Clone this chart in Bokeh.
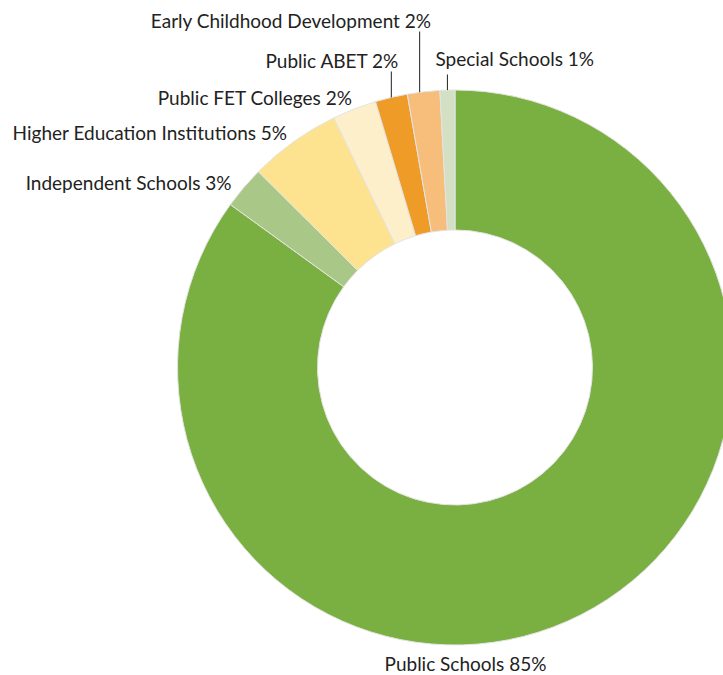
import math
from bokeh.plotting import figure
from bokeh.models import ColumnDataSource
from bokeh.core.properties import value
from bokeh.embed import file_html
from bokeh.resources import INLINE

# ---- data (clockwise from 12 o'clock) ----
categories = ["Public Schools", "Independent Schools", "Higher Education Institutions",
              "Public FET Colleges", "Public ABET", "Early Childhood Development",
              "Special Schools"]
shares = [84.98, 2.48, 5.34, 2.57, 1.87, 1.88, 0.87]
label_pcts = ["85%", "3%", "5%", "2%", "2%", "2%", "1%"]
colors = ["#7aaf42", "#a9c887", "#fde290", "#fdefc9", "#ee9b27", "#f6bd7b", "#d3e0c3"]

# ---- layout ----
W, H = 723, 675
CX, CY = 454.5, 675 - 367.0
R_OUT, R_IN = 277.5, 137.5

total = sum(shares)
starts, ends, mids = [], [], []
cum = 0.0
for s in shares:
    w = s / total * 2 * math.pi
    a_end = math.pi / 2 - cum
    a_start = math.pi / 2 - (cum + w)
    starts.append(a_start)
    ends.append(a_end)
    mids.append((a_start + a_end) / 2)
    cum += w

src = ColumnDataSource(dict(start=starts, end=ends, color=colors))

p = figure(width=W, height=H, x_range=(0, W), y_range=(0, H),
           output_backend="svg", toolbar_location=None, min_border=0)
p.axis.visible = False
p.grid.visible = False
p.outline_line_color = None
p.background_fill_color = "white"

p.annular_wedge(x=CX, y=CY, inner_radius=R_IN, outer_radius=R_OUT,
                start_angle="start", end_angle="end", fill_color="color",
                line_color="#e4e4e4", line_width=1, source=src)

# label placement (screen coords: x, y-from-top, align, leader top y, leader angle shift in deg)
label_layout = {
    "Public Schools": (465, 663, "center", None, 0),
    "Independent Schools": (231, 182, "right", None, 0),
    "Higher Education Institutions": (287, 132, "right", None, 0),
    "Public FET Colleges": (352, 97, "right", None, 0),
    "Public ABET": (399, 60, "right", 71, 0),
    "Early Childhood Development": (431, 20, "right", 31, 0.8),
    "Special Schools": (435, 58, "left", 74, 0),
}

for i, cat in enumerate(categories):
    lx, ly, align, lead_top, shift = label_layout[cat]
    txt = f"{cat} {label_pcts[i]}"
    p.text(x=[lx], y=[H - ly], text=[txt], text_align=align, text_baseline="middle",
           text_font=value("Lato"), text_font_size="19px", text_color="#222222")
    if lead_top is not None:
        a = mids[i] + math.radians(shift)
        mx = CX + R_OUT * math.cos(a)
        my = CY + R_OUT * math.sin(a)
        p.line(x=[mx, mx], y=[my, H - lead_top], line_color="#222222", line_width=1)

open("out.html", "w").write(file_html(p, INLINE))
